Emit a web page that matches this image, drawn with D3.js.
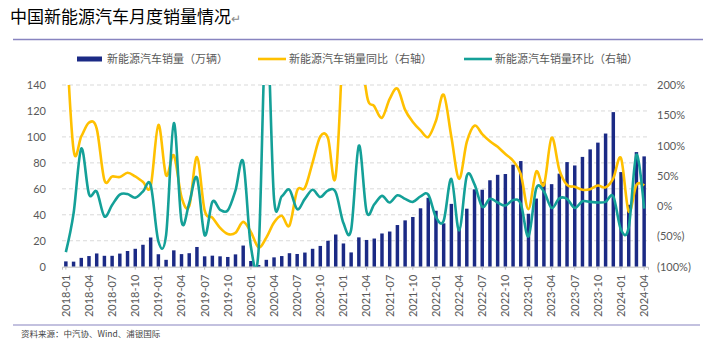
<!DOCTYPE html>
<html>
<head>
<meta charset="utf-8">
<script src="https://cdn.jsdelivr.net/npm/d3@7"></script>
<style>
  body { margin: 0; background: #fff; }
  svg { display: block; }
</style>
</head>
<body>
<script>
// months 2018-01 .. 2024-04
var months = [
  '2018-01','2018-02','2018-03','2018-04','2018-05','2018-06','2018-07','2018-08','2018-09','2018-10','2018-11','2018-12',
  '2019-01','2019-02','2019-03','2019-04','2019-05','2019-06','2019-07','2019-08','2019-09','2019-10','2019-11','2019-12',
  '2020-01','2020-02','2020-03','2020-04','2020-05','2020-06','2020-07','2020-08','2020-09','2020-10','2020-11','2020-12',
  '2021-01','2021-02','2021-03','2021-04','2021-05','2021-06','2021-07','2021-08','2021-09','2021-10','2021-11','2021-12',
  '2022-01','2022-02','2022-03','2022-04','2022-05','2022-06','2022-07','2022-08','2022-09','2022-10','2022-11','2022-12',
  '2023-01','2023-02','2023-03','2023-04','2023-05','2023-06','2023-07','2023-08','2023-09','2023-10','2023-11','2023-12',
  '2024-01','2024-02','2024-03','2024-04'
];

// shown tick labels (every third month)
var tickLabels = [
  '2018-01','2018-04','2018-07','2018-10','2019-01','2019-04','2019-07','2019-10',
  '2020-01','2020-04','2020-07','2020-10','2021-01','2021-04','2021-07','2021-10',
  '2022-01','2022-04','2022-07','2022-10','2023-01','2023-04','2023-07','2023-10',
  '2024-01','2024-04'
];

// 新能源汽车销量（万辆）
var sales = [
  4.1, 3.9, 6.8, 8.2, 10.2, 8.4, 8.4, 10.1, 12.1, 13.8, 16.9, 22.5,
  9.6, 5.3, 12.6, 9.7, 10.4, 15.2, 8.0, 8.5, 8.0, 7.5, 9.5, 16.3,
  4.4, 1.3, 5.3, 7.2, 8.2, 10.4, 9.8, 10.9, 13.8, 16.0, 20.0, 24.8,
  17.9, 11.0, 22.6, 20.6, 21.7, 25.6, 27.1, 32.1, 35.7, 38.3, 45.0, 53.1,
  43.1, 33.4, 48.4, 29.9, 44.7, 59.6, 59.3, 66.6, 70.8, 71.4, 78.6, 81.4,
  40.8, 52.5, 65.3, 63.6, 71.7, 80.6, 78.0, 84.6, 90.4, 95.6, 102.6, 119.1,
  72.9, 47.7, 88.3, 85.0
];

// 同比 (%)
var yoy = [
  300, 93, 115, 138, 128, 43, 49, 48, 55, 49, 40, 33,
  134, 51, 84, 15, 0, 81, -7, -19, -36, -46, -44, -26,
  -43, -68, -52, -27, -16, -32, 26, 30, 72, 115, 112, 50,
  307, 746, 326, 186, 165, 146, 177, 194, 159, 139, 125, 114,
  141, 184, 114, 45, 106, 133, 119, 107, 98, 86, 75, 53,
  -5, 57, 35, 113, 60, 35, 32, 27, 28, 34, 31, 46,
  79, -9, 35, 34
];

// 环比 (%)
var mom = [
  -76, -12, 95, 20, 24, -17, 2, 19, 20, 14, 24, 35,
  -58, -48, 137, -25, 5, 47, -48, 7, -6, -7, 26, 73,
  -67, -72, 308, 12, 16, 27, -5, 12, 27, 15, 26, 23,
  -28, -39, 100, -9, 3, 17, 6, 18, 12, 7, 16, 19,
  -18, -24, 45, -40, 50, 36, -1, 12, 6, 1, 10, 4,
  -50, 29, 24, -3, 13, 12, -3, 8, 7, 6, 7, 16,
  -39, -35, 85, -4
];

var leftTicks = [0, 20, 40, 60, 80, 100, 120, 140];
var rightTicks = [-100, -50, 0, 50, 100, 150, 200];

var width = 703;
var height = 348;
var plot = { left: 62, right: 648, top: 85, bottom: 266.7 };

var numFont = 'Lato, "Liberation Sans", sans-serif';
var cjkFont = '"Noto Sans CJK SC", sans-serif';

var svg = d3.select('body')
  .append('svg')
    .attr('width', width)
    .attr('height', height);

// title
var title = svg.append('text')
  .attr('x', 10)
  .attr('y', 23)
  .attr('font-family', cjkFont)
  .attr('font-size', 17)
  .attr('fill', '#000')
  .text('中国新能源汽车月度销量情况');
title.append('tspan')
  .attr('font-size', 12)
  .attr('fill', '#888')
  .text('↵');

// rules
svg.append('line')
  .attr('x1', 13).attr('x2', 703)
  .attr('y1', 39.5).attr('y2', 39.5)
  .attr('stroke', '#8884c0')
  .attr('stroke-width', 1.5);

svg.append('line')
  .attr('x1', 13).attr('x2', 700)
  .attr('y1', 325).attr('y2', 325)
  .attr('stroke', '#8884c0')
  .attr('stroke-width', 1.2);

svg.append('text')
  .attr('x', 21)
  .attr('y', 337)
  .attr('font-family', cjkFont)
  .attr('font-size', 8.5)
  .attr('fill', '#444')
  .text('资料来源：中汽协、Wind、浦银国际');

// scales
var x = d3.scaleBand()
  .domain(months)
  .range([plot.left, plot.right]);

var barWidth = x.bandwidth() * 0.45;

var y = d3.scaleLinear()
  .domain([0, 140])
  .range([plot.bottom, plot.top]);

var y2 = d3.scaleLinear()
  .domain([-100, 200])
  .range([plot.bottom, plot.top]);

function cx(m) { return x(m) + x.bandwidth() / 2; }

// gridlines
svg.append('g')
  .selectAll('line')
  .data(leftTicks.slice(1))
  .join('line')
    .attr('x1', plot.left)
    .attr('x2', plot.right)
    .attr('y1', function(d) { return y(d); })
    .attr('y2', function(d) { return y(d); })
    .attr('stroke', '#d9d9d9')
    .attr('stroke-dasharray', '4,3');

// left axis
var yAxis = d3.axisLeft(y)
  .tickValues(leftTicks)
  .tickSize(0)
  .tickPadding(0);

svg.append('g')
  .attr('transform', 'translate(46,0)')
  .call(yAxis)
  .call(function(g) { g.select('.domain').remove(); })
  .selectAll('text')
    .attr('font-family', numFont)
    .attr('font-size', 11)
    .attr('fill', '#595959');

// right axis
var y2Axis = d3.axisRight(y2)
  .tickValues(rightTicks)
  .tickSize(0)
  .tickPadding(0)
  .tickFormat(function(d) { return d < 0 ? '(' + (-d) + '%)' : d + '%'; });

svg.append('g')
  .attr('transform', 'translate(657,0)')
  .call(y2Axis)
  .call(function(g) { g.select('.domain').remove(); })
  .selectAll('text')
    .attr('font-family', numFont)
    .attr('font-size', 11)
    .attr('fill', '#595959');

// bars
svg.append('g')
  .selectAll('rect')
  .data(months)
  .join('rect')
    .attr('x', function(d) { return cx(d) - barWidth / 2; })
    .attr('y', function(d, i) { return y(sales[i]); })
    .attr('width', barWidth)
    .attr('height', function(d, i) { return plot.bottom - y(sales[i]); })
    .attr('fill', '#1b2a85');

// bottom axis
var xAxis = d3.axisBottom(x)
  .tickValues(tickLabels)
  .tickSize(3)
  .tickPadding(0);

var xg = svg.append('g')
  .attr('transform', 'translate(0,' + plot.bottom + ')')
  .call(xAxis);

xg.select('.domain').attr('stroke', '#bfbfbf');
xg.selectAll('.tick line').attr('stroke', '#bfbfbf');
xg.selectAll('text')
  .attr('font-family', numFont)
  .attr('font-size', 11)
  .attr('fill', '#595959')
  .attr('text-anchor', 'end')
  .attr('transform', 'translate(0,8) rotate(-90)')
  .attr('x', 0)
  .attr('y', 0)
  .attr('dy', '0.35em');

// lines, clipped to the plot area
svg.append('clipPath')
  .attr('id', 'plot-clip')
  .append('rect')
    .attr('x', plot.left)
    .attr('y', plot.top)
    .attr('width', plot.right - plot.left)
    .attr('height', plot.bottom - plot.top);

var line = d3.line()
  .x(function(d) { return cx(d.m); })
  .y(function(d) { return y2(d.v); })
  .curve(d3.curveCatmullRom.alpha(0));

var lines = svg.append('g').attr('clip-path', 'url(#plot-clip)');

lines.append('path')
  .datum(months.map(function(m, i) { return { m: m, v: yoy[i] }; }))
  .attr('d', line)
  .attr('fill', 'none')
  .attr('stroke', '#ffc000')
  .attr('stroke-width', 2.6);

lines.append('path')
  .datum(months.map(function(m, i) { return { m: m, v: mom[i] }; }))
  .attr('d', line)
  .attr('fill', 'none')
  .attr('stroke', '#14a098')
  .attr('stroke-width', 2.6);

// legend
var legend = svg.append('g')
  .attr('font-family', cjkFont)
  .attr('font-size', 11)
  .attr('fill', '#595959');

legend.append('rect')
  .attr('x', 77).attr('y', 56.5)
  .attr('width', 25).attr('height', 5)
  .attr('fill', '#1b2a85');
legend.append('text')
  .attr('x', 107).attr('y', 63)
  .text('新能源汽车销量（万辆）');

legend.append('line')
  .attr('x1', 258).attr('x2', 286)
  .attr('y1', 59).attr('y2', 59)
  .attr('stroke', '#ffc000')
  .attr('stroke-width', 2.6);
legend.append('text')
  .attr('x', 289).attr('y', 63)
  .text('新能源汽车销量同比（右轴）');

legend.append('line')
  .attr('x1', 464).attr('x2', 492)
  .attr('y1', 59).attr('y2', 59)
  .attr('stroke', '#14a098')
  .attr('stroke-width', 2.6);
legend.append('text')
  .attr('x', 495).attr('y', 63)
  .text('新能源汽车销量环比（右轴）');
</script>
</body>
</html>
